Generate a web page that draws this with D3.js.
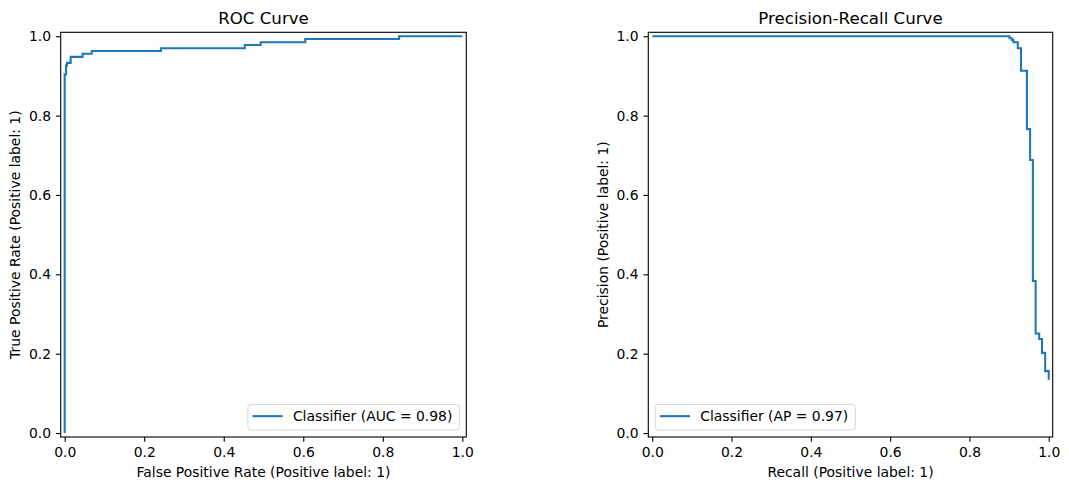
<!DOCTYPE html>
<html><head><meta charset="utf-8">
<script src="https://cdn.jsdelivr.net/npm/d3@7"></script>
<style>
body{margin:0;background:#fff}
text{font-family:"DejaVu Sans",sans-serif;fill:#000}
</style>
</head><body>
<svg id="c" width="1069" height="490"></svg>
<script>
// ROC curve corner points (false positive rate, true positive rate)
const rocFpr = [0, 0, 0.0035, 0.0058, 0.015, 0.045, 0.068, 0.242, 0.453, 0.493, 0.605, 0.841, 1.0];
const rocTpr = [0, 0.904, 0.926, 0.933, 0.948, 0.956, 0.963, 0.970, 0.978, 0.985, 0.993, 1.0, 1.0];
// Precision-recall points (recall descending, as produced by precision_recall_curve)
const prRecall    = [1.0, 1.0, 0.991, 0.983, 0.976, 0.967, 0.960, 0.953, 0.945, 0.930, 0.922, 0.911, 0.907, 0.901, 0.0];
const prPrecision = [0.134, 0.156, 0.202, 0.237, 0.251, 0.383, 0.688, 0.766, 0.913, 0.970, 0.985, 0.991, 0.995, 1.0, 1.0];
const tickValues = [0, 0.2, 0.4, 0.6, 0.8, 1.0];
const titles = ["ROC Curve", "Precision-Recall Curve"];
const xLabels = ["False Positive Rate (Positive label: 1)", "Recall (Positive label: 1)"];
const yLabels = ["True Positive Rate (Positive label: 1)", "Precision (Positive label: 1)"];
const legendLabels = ["Classifier (AUC = 0.98)", "Classifier (AP = 0.97)"];

const svg = d3.select("#c");
const color = "#1f77b4";
const FS = 13.9;

const panels = [
  {xs: rocFpr, ys: rocTpr, box: [60.7, 32.3, 466.3, 437], legendSide: "right", ylx: 19.7},
  {xs: prRecall, ys: prPrecision, box: [648.3, 32.3, 1052.7, 437], legendSide: "left", ylx: 608}
];

panels.forEach((p, i) => {
  const [x0, y0, x1, y1] = p.box;
  const x = d3.scaleLinear().domain([-0.01, 1.01]).range([x0, x1]);
  const y = d3.scaleLinear().domain([-0.01, 1.01]).range([y1, y0]);
  const g = svg.append("g");

  // curve
  const pts = p.xs.map((v, k) => [v, p.ys[k]]);
  g.append("path")
    .attr("d", d3.line().x(d => x(d[0])).y(d => y(d[1])).curve(d3.curveStepAfter)(pts))
    .attr("fill", "none").attr("stroke", color).attr("stroke-width", 2.08)
    .attr("stroke-linejoin", "miter").attr("stroke-linecap", "butt");

  // axes
  const fmt = d3.format(".1f");
  const ax = g.append("g").attr("transform", `translate(0,${y1})`)
    .call(d3.axisBottom(x).tickValues(tickValues).tickFormat(fmt).tickSize(4.86).tickPadding(4.86));
  const ay = g.append("g").attr("transform", `translate(${x0},0)`)
    .call(d3.axisLeft(y).tickValues(tickValues).tickFormat(fmt).tickSize(4.86).tickPadding(4.86));
  [ax, ay].forEach(a => {
    a.select(".domain").remove();
    a.selectAll("line").attr("stroke", "#000").attr("stroke-width", 1.1);
    a.selectAll("text").attr("font-size", FS).attr("font-family", "DejaVu Sans").attr("fill", "#000");
  });

  // frame
  g.append("rect").attr("x", x0).attr("y", y0).attr("width", x1 - x0).attr("height", y1 - y0)
    .attr("fill", "none").attr("stroke", "#000").attr("stroke-width", 1.1);

  // title
  g.append("text").attr("x", (x0 + x1) / 2).attr("y", 24).attr("text-anchor", "middle")
    .attr("font-size", 16.67).text(titles[i]);
  // x label
  g.append("text").attr("x", (x0 + x1) / 2).attr("y", 477).attr("text-anchor", "middle")
    .attr("font-size", FS).text(xLabels[i]);
  // y label
  g.append("text").attr("transform", `translate(${p.ylx},${(y0 + y1) / 2}) rotate(-90)`)
    .attr("text-anchor", "middle").attr("font-size", FS).text(yLabels[i]);

  // legend
  const lg = g.append("g");
  const rect = lg.append("rect");
  const t = lg.append("text").attr("font-size", FS).text(legendLabels[i]);
  const tw = t.node().getComputedTextLength();
  const bw = tw + 52, bh = 25.5;
  const bx = p.legendSide === "right" ? x1 - 6.95 - bw : x0 + 6.95;
  const by = y1 - 6.95 - bh;
  rect.attr("x", bx).attr("y", by).attr("width", bw).attr("height", bh).attr("rx", 2.8)
    .attr("fill", "#fff").attr("fill-opacity", 0.8).attr("stroke", "#d6d6d6").attr("stroke-width", 1);
  lg.append("line").attr("x1", bx + 4.7).attr("x2", bx + 34.7).attr("y1", by + 11.6).attr("y2", by + 11.6)
    .attr("stroke", color).attr("stroke-width", 2.08);
  t.attr("x", bx + 45).attr("y", by + 16.8);
});
</script>
</body></html>
